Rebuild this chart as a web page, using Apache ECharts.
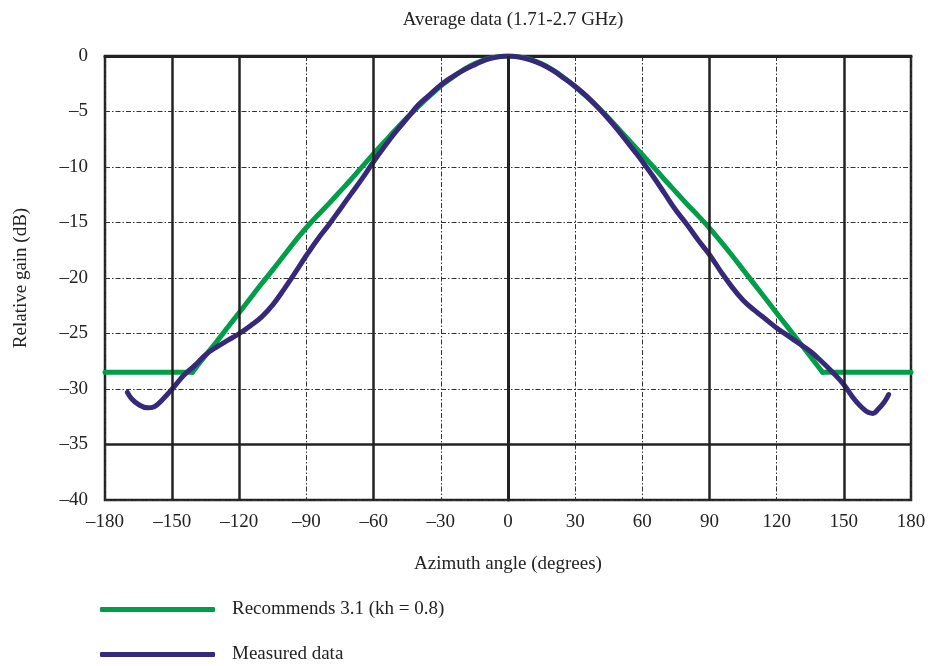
<!DOCTYPE html>
<html>
<head>
<meta charset="utf-8">
<script src="https://cdn.jsdelivr.net/npm/echarts@6/dist/echarts.min.js"></script>
<style>
  html, body { margin: 0; padding: 0; background: #fff; }
  #chart { width: 933px; height: 666px; }
</style>
</head>
<body>
<div id="chart"></div>
<script>
// Azimuth angles (degrees) and relative gain (dB) for the reference pattern
const recFloorAngle = 141;
const recFloor = -28.5;
const recAngles = [-141, -135, -130, -125, -120, -115, -110, -105, -100, -95, -90, -85, -80, -75, -70, -65, -60, -55, -50, -45, -40, -35, -30, -25, -20, -15, -10, -5, 0,
  5, 10, 15, 20, 25, 30, 35, 40, 45, 50, 55, 60, 65, 70, 75, 80, 85, 90, 95, 100, 105, 110, 115, 120, 125, 130, 135, 140.5];
const recGain = [-28.5, -26.95, -25.7, -24.4, -23.1, -21.8, -20.5, -19.25, -17.95, -16.65, -15.45, -14.35, -13.3, -12.2, -11.1, -9.95, -8.8, -7.7, -6.6, -5.55, -4.55, -3.6, -2.7, -1.95, -1.25, -0.7, -0.3, -0.08, 0,
  -0.08, -0.3, -0.7, -1.25, -1.95, -2.75, -3.65, -4.6, -5.6, -6.7, -7.8, -8.9, -10.0, -11.15, -12.25, -13.35, -14.4, -15.5, -16.7, -17.95, -19.25, -20.55, -21.85, -23.15, -24.45, -25.75, -27.05, -28.5];

// Measured azimuth pattern
const measAngles = [-170, -168, -165, -161, -158, -155, -150, -145, -140, -135, -130, -125, -120, -115, -110, -105, -100, -95, -90, -85, -80, -75, -70, -65, -60, -55, -50, -45, -40, -35, -30, -25, -20, -15, -10, -5, 0,
  5, 10, 15, 20, 25, 30, 35, 40, 45, 50, 55, 60, 65, 70, 75, 80, 85, 90, 95, 100, 105, 110, 115, 120, 125, 130, 135, 140, 145, 150, 155, 160, 163, 165, 168, 170];
const measGain = [-30.3, -30.9, -31.4, -31.7, -31.6, -31.1, -30.0, -28.8, -27.9, -26.9, -26.2, -25.6, -25.0, -24.3, -23.5, -22.4, -21.0, -19.5, -17.95, -16.5, -15.2, -13.8, -12.4, -11.0, -9.5, -8.1, -6.8, -5.6, -4.4, -3.5, -2.6, -1.9, -1.3, -0.8, -0.35, -0.1, 0,
  -0.1, -0.35, -0.75, -1.3, -2.0, -2.75, -3.6, -4.6, -5.7, -6.9, -8.2, -9.5, -10.9, -12.4, -13.9, -15.2, -16.6, -17.9, -19.4, -20.8, -22.0, -22.9, -23.7, -24.5, -25.2, -25.9, -26.6, -27.5, -28.5, -29.6, -31.0, -32.0, -32.2, -31.9, -31.2, -30.5];

// Heavier grid lines
const boldX = [-150, -120, -60, 0, 90, 150];
const boldY = [-35];

const xTicks = [-180, -150, -120, -90, -60, -30, 0, 30, 60, 90, 120, 150, 180];
const yTicks = [0, -5, -10, -15, -20, -25, -30, -35, -40];

const REC_NAME = 'Recommends 3.1 (kh = 0.8)';
const MEAS_NAME = 'Measured data';
const GREEN = '#009e48';
const PURPLE = '#37287a';

const FONT = '"Liberation Serif", "DejaVu Serif", serif';
const fmt = v => (v < 0 ? '\u2013' + Math.abs(v) : String(v));
const pairs = (xs, ys) => xs.map((x, i) => [x, ys[i]]);

const chart = echarts.init(document.getElementById('chart'), null, { renderer: 'canvas' });

const gridDash = { color: '#333', width: 1, type: [5, 2, 1.5, 2] };
const recLine = { color: GREEN, width: 5, cap: 'round', join: 'round' };

const legendBase = {
  orient: 'vertical', left: 95,
  icon: 'roundRect', itemWidth: 115, itemHeight: 5,
  textStyle: { fontFamily: FONT, fontSize: 19, color: '#222', padding: [0, 0, 0, 12] }
};

chart.setOption({
  animation: false,
  backgroundColor: '#fff',
  title: {
    text: 'Average data (1.71-2.7 GHz)',
    left: 508, top: 6, textAlign: 'center',
    textStyle: { fontFamily: FONT, fontSize: 19, fontWeight: 'normal', color: '#222' }
  },
  grid: {
    left: 105, right: 22, top: 56, bottom: 166,
    show: true, borderColor: '#222', borderWidth: 2.5, backgroundColor: 'transparent'
  },
  xAxis: {
    type: 'value', min: -180, max: 180, interval: 30,
    name: 'Azimuth angle (degrees)', nameLocation: 'middle', nameGap: 55,
    nameTextStyle: { fontFamily: FONT, fontSize: 19, color: '#222' },
    axisLine: { show: true, lineStyle: { color: '#222', width: 3 } },
    axisTick: { show: false },
    axisLabel: { fontFamily: FONT, fontSize: 19, color: '#222', margin: 13,
      formatter: v => xTicks.includes(v) ? fmt(v) : '' },
    splitLine: { show: true, lineStyle: gridDash }
  },
  yAxis: {
    type: 'value', min: -40, max: 0, interval: 5,
    name: 'Relative gain (dB)', nameLocation: 'middle', nameGap: 74, nameRotate: 90,
    nameTextStyle: { fontFamily: FONT, fontSize: 19, color: '#222' },
    axisLine: { show: true, lineStyle: { color: '#222', width: 3 } },
    axisTick: { show: false },
    axisLabel: { fontFamily: FONT, fontSize: 19, color: '#222', margin: 17,
      formatter: v => yTicks.includes(v) ? fmt(v) : '' },
    splitLine: { show: true, lineStyle: gridDash }
  },
  legend: [
    Object.assign({ top: 595, data: [REC_NAME] }, legendBase),
    Object.assign({ top: 640, data: [MEAS_NAME] }, legendBase)
  ],
  series: [
    {
      name: 'grid',
      type: 'line', data: [], silent: true,
      markLine: {
        silent: true, symbol: 'none', animation: false,
        label: { show: false },
        lineStyle: { color: '#222', width: 2.5, type: 'solid' },
        data: boldX.map(x => ({ xAxis: x })).concat(boldY.map(y => ({ yAxis: y })))
      }
    },
    // floor segments of the recommended pattern
    {
      name: REC_NAME, type: 'line', showSymbol: false, symbol: 'none',
      data: [[-180, recFloor], [-recFloorAngle, recFloor]],
      lineStyle: recLine, itemStyle: { color: GREEN }
    },
    {
      name: REC_NAME, type: 'line', showSymbol: false, symbol: 'none',
      data: [[recAngles[recAngles.length - 1], recFloor], [180, recFloor]],
      lineStyle: recLine, itemStyle: { color: GREEN }
    },
    // main lobe of the recommended pattern
    {
      name: REC_NAME, type: 'line', showSymbol: false, symbol: 'none', smooth: 0.3,
      data: pairs(recAngles, recGain),
      lineStyle: recLine, itemStyle: { color: GREEN }
    },
    {
      name: MEAS_NAME,
      type: 'line', showSymbol: false, symbol: 'none', smooth: 0.4,
      data: pairs(measAngles, measGain),
      lineStyle: { color: PURPLE, width: 5, cap: 'round', join: 'round' },
      itemStyle: { color: PURPLE }
    }
  ]
});
</script>
</body>
</html>
